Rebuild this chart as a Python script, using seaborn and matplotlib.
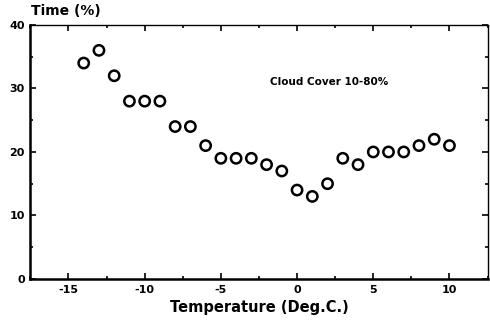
import matplotlib
matplotlib.use('Agg')
import matplotlib.pyplot as plt
import seaborn as sns
import pandas as pd
from matplotlib.ticker import MultipleLocator

# values
temperature = [-14, -13, -12, -11, -10, -9, -8, -7, -6, -5, -4, -3, -2, -1,
               0, 1, 2, 3, 4, 5, 6, 7, 8, 9, 10]
time_pct = [34, 36, 32, 28, 28, 28, 24, 24, 21, 19, 19, 19, 18, 17,
            14, 13, 15, 19, 18, 20, 20, 20, 21, 22, 21]
x_ticks = [-15, -10, -5, 0, 5, 10]
y_ticks = [0, 10, 20, 30, 40]

df = pd.DataFrame({'temp': temperature, 'time': time_pct})

sns.set_style('ticks', {'axes.edgecolor': 'black', 'text.color': 'black',
                        'xtick.color': 'black', 'ytick.color': 'black',
                        'axes.labelcolor': 'black'})
plt.rcParams['font.family'] = ['DejaVu Sans']
plt.rcParams['font.weight'] = 'bold'

fig = plt.figure(figsize=(4.9, 3.24), dpi=100)
ax = fig.add_axes([0.062, 0.139, 0.933, 0.784])

sns.scatterplot(data=df, x='temp', y='time', ax=ax, marker='o', s=55,
                facecolors='none', edgecolor='black', linewidth=1.8, zorder=3)

ax.set_xlim(-17.5, 12.5)
ax.set_ylim(0, 40)
ax.set_xticks(x_ticks)
ax.set_yticks(y_ticks)
ax.set_xticklabels(['-15', '-10', '-5', '0', '5', '10'])
ax.xaxis.set_minor_locator(MultipleLocator(2.5))
ax.yaxis.set_minor_locator(MultipleLocator(5))
ax.tick_params(which='both', direction='in', top=True, right=True,
               labelsize=8, width=1.2, pad=4, colors='black')
ax.tick_params(which='major', length=4)
ax.tick_params(which='minor', length=2.5)
for lbl in ax.get_xticklabels() + ax.get_yticklabels():
    lbl.set_fontweight('bold')

for side in ['left', 'bottom']:
    ax.spines[side].set_linewidth(1.8)
for side in ['top', 'right']:
    ax.spines[side].set_linewidth(1.0)

ax.set_xlabel('Temperature (Deg.C.)', fontsize=10.5, fontweight='bold',
              labelpad=4, color='black')
ax.set_ylabel('')
fig.text(0.063, 0.945, 'Time (%)', fontsize=10, fontweight='bold',
         ha='left', va='bottom', color='black')
ax.text(-1.8, 31, 'Cloud Cover 10-80%', fontsize=7.5, fontweight='bold',
        ha='left', va='center', color='black')

fig.savefig('out.png', dpi=100)
